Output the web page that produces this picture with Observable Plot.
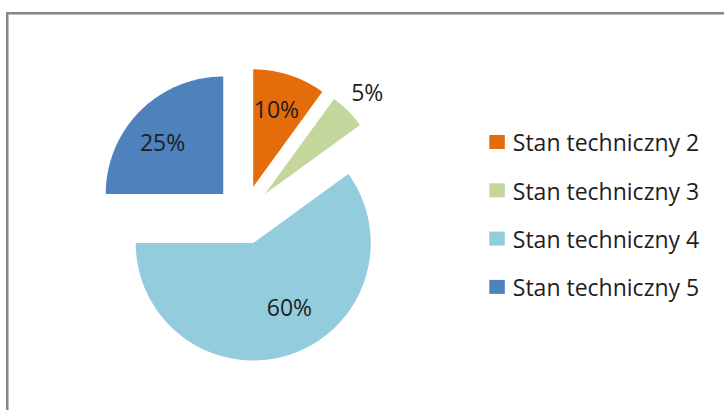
<!DOCTYPE html>
<html><head><meta charset="utf-8">
<script src="https://cdn.jsdelivr.net/npm/d3@7"></script>
<script src="https://cdn.jsdelivr.net/npm/@observablehq/plot@0.6"></script>
<style>
body{margin:0;background:#fff;}
#wrap{position:relative;width:724px;height:410px;overflow:hidden;}
#wrap svg{position:absolute;left:0;top:0;}
#frame{position:absolute;left:6px;top:12px;width:800px;height:500px;border-top:2px solid #878787;border-left:2px solid #878787;box-shadow:inset 1px 1px 0 #bdbdbd;pointer-events:none;}
</style></head><body><div id="wrap"></div>
<script>
const categories = ["Stan techniczny 2", "Stan techniczny 3", "Stan techniczny 4", "Stan techniczny 5"];
const values = [10, 5, 60, 25];
const labels = ["10%", "5%", "60%", "25%"];
const colors = ["#E46C0A", "#C3D69B", "#93CDDD", "#4F81BD"];

const W = 724, H = 410;
const cx = 243.6, cy = 214.4, R = 117.5, explode = 29.5;
// label placement: relative radius and position within the slice's angular span
const labelR = [0.68, 1.22, 0.64, 0.67];
const labelT = [0.47, 0.53, 0.45, 0.44];

const arcs = d3.pie().sort(null).value(d => d)(values);
const slicePts = [];
const labelPts = [];
arcs.forEach((p, i) => {
  const mid = (p.startAngle + p.endAngle) / 2;
  const ox = cx + explode * Math.sin(mid), oy = cy - explode * Math.cos(mid);
  slicePts.push({cat: categories[i], x: ox, y: oy});
  const n = Math.max(4, Math.ceil((p.endAngle - p.startAngle) / 0.01));
  for (let k = 0; k <= n; k++) {
    const a = p.startAngle + (p.endAngle - p.startAngle) * k / n;
    slicePts.push({cat: categories[i], x: ox + R * Math.sin(a), y: oy - R * Math.cos(a)});
  }
  const la = p.startAngle + (p.endAngle - p.startAngle) * labelT[i];
  labelPts.push({text: labels[i], x: ox + labelR[i] * R * Math.sin(la), y: oy - labelR[i] * R * Math.cos(la)});
});

const legX = 489.3, legY0 = 142, legStep = 48.3;
const legend = categories.map((c, i) => ({cat: c, y: legY0 + i * legStep}));

const chart = Plot.plot({
  width: W, height: H,
  margin: 0,
  x: {domain: [0, W], range: [0, W], axis: null},
  y: {domain: [0, H], range: [0, H], axis: null},
  color: {domain: categories, range: colors},
  style: {fontFamily: "'Open Sans', sans-serif", background: "#fff"},
  marks: [
    Plot.line(slicePts, {x: "x", y: "y", z: "cat", fill: "cat", stroke: null, curve: "linear-closed"}),
    Plot.text(labelPts, {x: "x", y: "y", text: "text", fontSize: 23, fill: "#1e1e1e"}),
    Plot.rect(legend, {x1: () => legX, x2: () => legX + 15.5, y1: d => d.y - 7, y2: d => d.y + 7, fill: "cat"}),
    Plot.text(legend, {x: () => legX + 23, y: d => d.y + 1.5, text: "cat", textAnchor: "start", fontSize: 23, fill: "#1e1e1e"})
  ]
});
const wrap = document.getElementById("wrap");
wrap.appendChild(chart);
const frame = document.createElement("div");
frame.id = "frame";
wrap.appendChild(frame);
</script>
</body></html>
